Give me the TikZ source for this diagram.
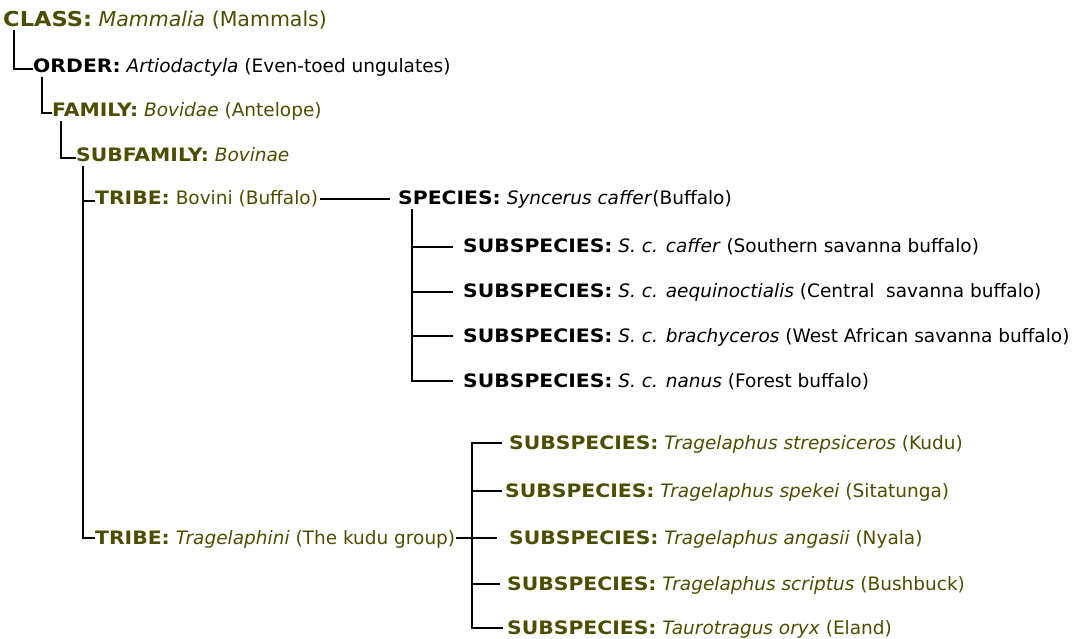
\documentclass[tikz,border=0pt]{standalone}
\usepackage{fontspec}
\setmainfont{DejaVu Sans}[BoldFeatures={FakeStretch=1.1}]
\usetikzlibrary{calc}
\definecolor{taxolive}{RGB}{77,77,0}

\begin{document}
\begin{tikzpicture}[
		x=1pt, y=-1pt,
		% Style for the rank labels
		rank/.style={anchor=base west, inner sep=0pt, font=\fontsize{18.5}{22}\selectfont},
		olive rank/.style={rank, text=taxolive},
		black rank/.style={rank, text=black},
		% Connector style
		link/.style={line width=1.8pt, black}
		]
		\useasboundingbox (0,0) rectangle (1074,639);
		
		% --- 1. Higher ranks ---
		\node[olive rank, font=\fontsize{20.5}{24}\selectfont] (class) at (3,27) {\textbf{CLASS:} \textit{Mammalia} (Mammals)};
		\node[black rank] (order) at (33,73) {\textbf{ORDER:} \textit{Artiodactyla} (Even-toed ungulates)};
		\node[olive rank] (family) at (52,117) {\textbf{FAMILY:} \textit{Bovidae} (Antelope)};
		\node[olive rank] (subfamily) at (76,162) {\textbf{SUBFAMILY:} \textit{Bovinae}};
		
		% --- 2. Tribes ---
		\node[olive rank] (bovini) at (95,205) {\textbf{TRIBE:} Bovini (Buffalo)};
		\node[olive rank] (trag) at (95,544) {\textbf{TRIBE:} \textit{Tragelaphini} (The kudu group)};
		
		% --- 3. Buffalo species and subspecies ---
		\node[black rank] (species) at (398,205) {\textbf{SPECIES:} \textit{Syncerus caffer}(Buffalo)};
		\node[black rank] (caffer) at (463,253) {\textbf{SUBSPECIES:} \textit{S. c. caffer} (Southern savanna buffalo)};
		\node[black rank] (aequi) at (463,298) {\textbf{SUBSPECIES:} \textit{S. c. aequinoctialis} (Central\ \ savanna buffalo)};
		\node[black rank] (brachy) at (463,342) {\textbf{SUBSPECIES:} \textit{S. c. brachyceros} (West African savanna buffalo)};
		\node[black rank] (nanus) at (463,387) {\textbf{SUBSPECIES:} \textit{S. c. nanus} (Forest buffalo)};
		
		% --- 4. Kudu group ---
		\node[olive rank] (strep) at (509,449) {\textbf{SUBSPECIES:} \textit{Tragelaphus strepsiceros} (Kudu)};
		\node[olive rank] (spekei) at (505,497) {\textbf{SUBSPECIES:} \textit{Tragelaphus spekei} (Sitatunga)};
		\node[olive rank] (angasii) at (509,544) {\textbf{SUBSPECIES:} \textit{Tragelaphus angasii} (Nyala)};
		\node[olive rank] (scriptus) at (507,590) {\textbf{SUBSPECIES:} \textit{Tragelaphus scriptus} (Bushbuck)};
		\node[olive rank] (oryx) at (507,634) {\textbf{SUBSPECIES:} \textit{Taurotragus oryx} (Eland)};
		
		% --- 5. Connectors down the ranks ---
		\draw[link] ([xshift=11pt]class.south west) |- ([yshift=4pt]order.base west);
		\draw[link] ([xshift=9pt]order.south west) |- ([yshift=4pt]family.base west);
		\draw[link] ([xshift=9pt]family.south west) |- ([yshift=4pt]subfamily.base west);
		\draw[link] ([xshift=7pt,yshift=-4pt]subfamily.south west) |- ([yshift=4pt]bovini.base west);
		\draw[link] ([xshift=7pt,yshift=-4pt]subfamily.south west) |- ([yshift=6pt]trag.base west);
		
		% --- 6. Buffalo branches ---
		\draw[link] ([xshift=2pt,yshift=6pt]bovini.base east) -- ([xshift=-8pt,yshift=6pt]species.base west);
		\foreach \s in {caffer, aequi, brachy, nanus}
		\draw[link] ([xshift=14pt]species.south west) |- ([xshift=-10pt,yshift=6pt]\s.base west);
		
		% --- 7. Kudu branches ---
		\coordinate (tragfork) at (472,538);
		\draw[link] ([xshift=1pt,yshift=6pt]trag.base east) -- ([xshift=-12pt,yshift=6pt]angasii.base west);
		\foreach \s/\gap in {strep/7, spekei/3, scriptus/7, oryx/4}
		\draw[link] (tragfork) |- ([xshift=-\gap pt,yshift=6pt]\s.base west);
		
	\end{tikzpicture}
\end{document}
